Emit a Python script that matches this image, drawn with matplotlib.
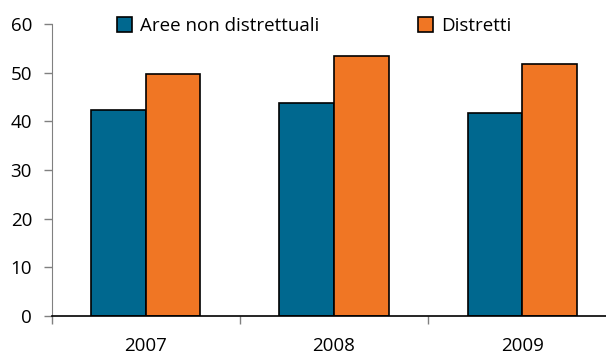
import numpy as np
import matplotlib.pyplot as plt
from matplotlib.ticker import FixedLocator

years = ['2007', '2008', '2009']
non_distr = [42.4, 43.7, 41.7]
distretti = [49.8, 53.4, 51.8]

blue = '#00688f'
orange = '#f07624'

plt.rcParams['font.family'] = ['Open Sans', 'DejaVu Sans']

fig = plt.figure(figsize=(6.06, 3.55), dpi=100)
ax = fig.add_axes([51.5 / 606, 39 / 355, 565 / 606, 292 / 355])

x = np.arange(len(years))
w = 0.29
ax.bar(x - w / 2, non_distr, w, color=blue, edgecolor='black', linewidth=1.2,
       label='Aree non distrettuali')
ax.bar(x + w / 2, distretti, w, color=orange, edgecolor='black', linewidth=1.2,
       label='Distretti')

ax.set_xlim(-0.5, 2.5)
ax.set_ylim(0, 60)
ax.set_yticks(range(0, 61, 10))
ax.set_xticks(x)
ax.set_xticklabels(years)
ax.xaxis.set_minor_locator(FixedLocator([-0.5, 0.5, 1.5, 2.5]))

ax.tick_params(axis='x', which='major', length=0, pad=15, labelsize=13.5)
ax.tick_params(axis='x', which='minor', length=6, width=1, color='#808080')
ax.tick_params(axis='y', length=6, width=1, color='#808080', pad=8, labelsize=13.5)

for s in ['top', 'right']:
    ax.spines[s].set_visible(False)
ax.spines['left'].set_color('#808080')
ax.spines['bottom'].set_color('black')
ax.spines['bottom'].set_linewidth(1.2)

ax.legend(loc='upper left', bbox_to_anchor=(0.103, 1.05), ncol=2, frameon=False,
          fontsize=13.5, handlelength=0.8, handleheight=0.8, handletextpad=0.4,
          columnspacing=5.3, borderaxespad=0)

fig.savefig('out.png', dpi=100)
